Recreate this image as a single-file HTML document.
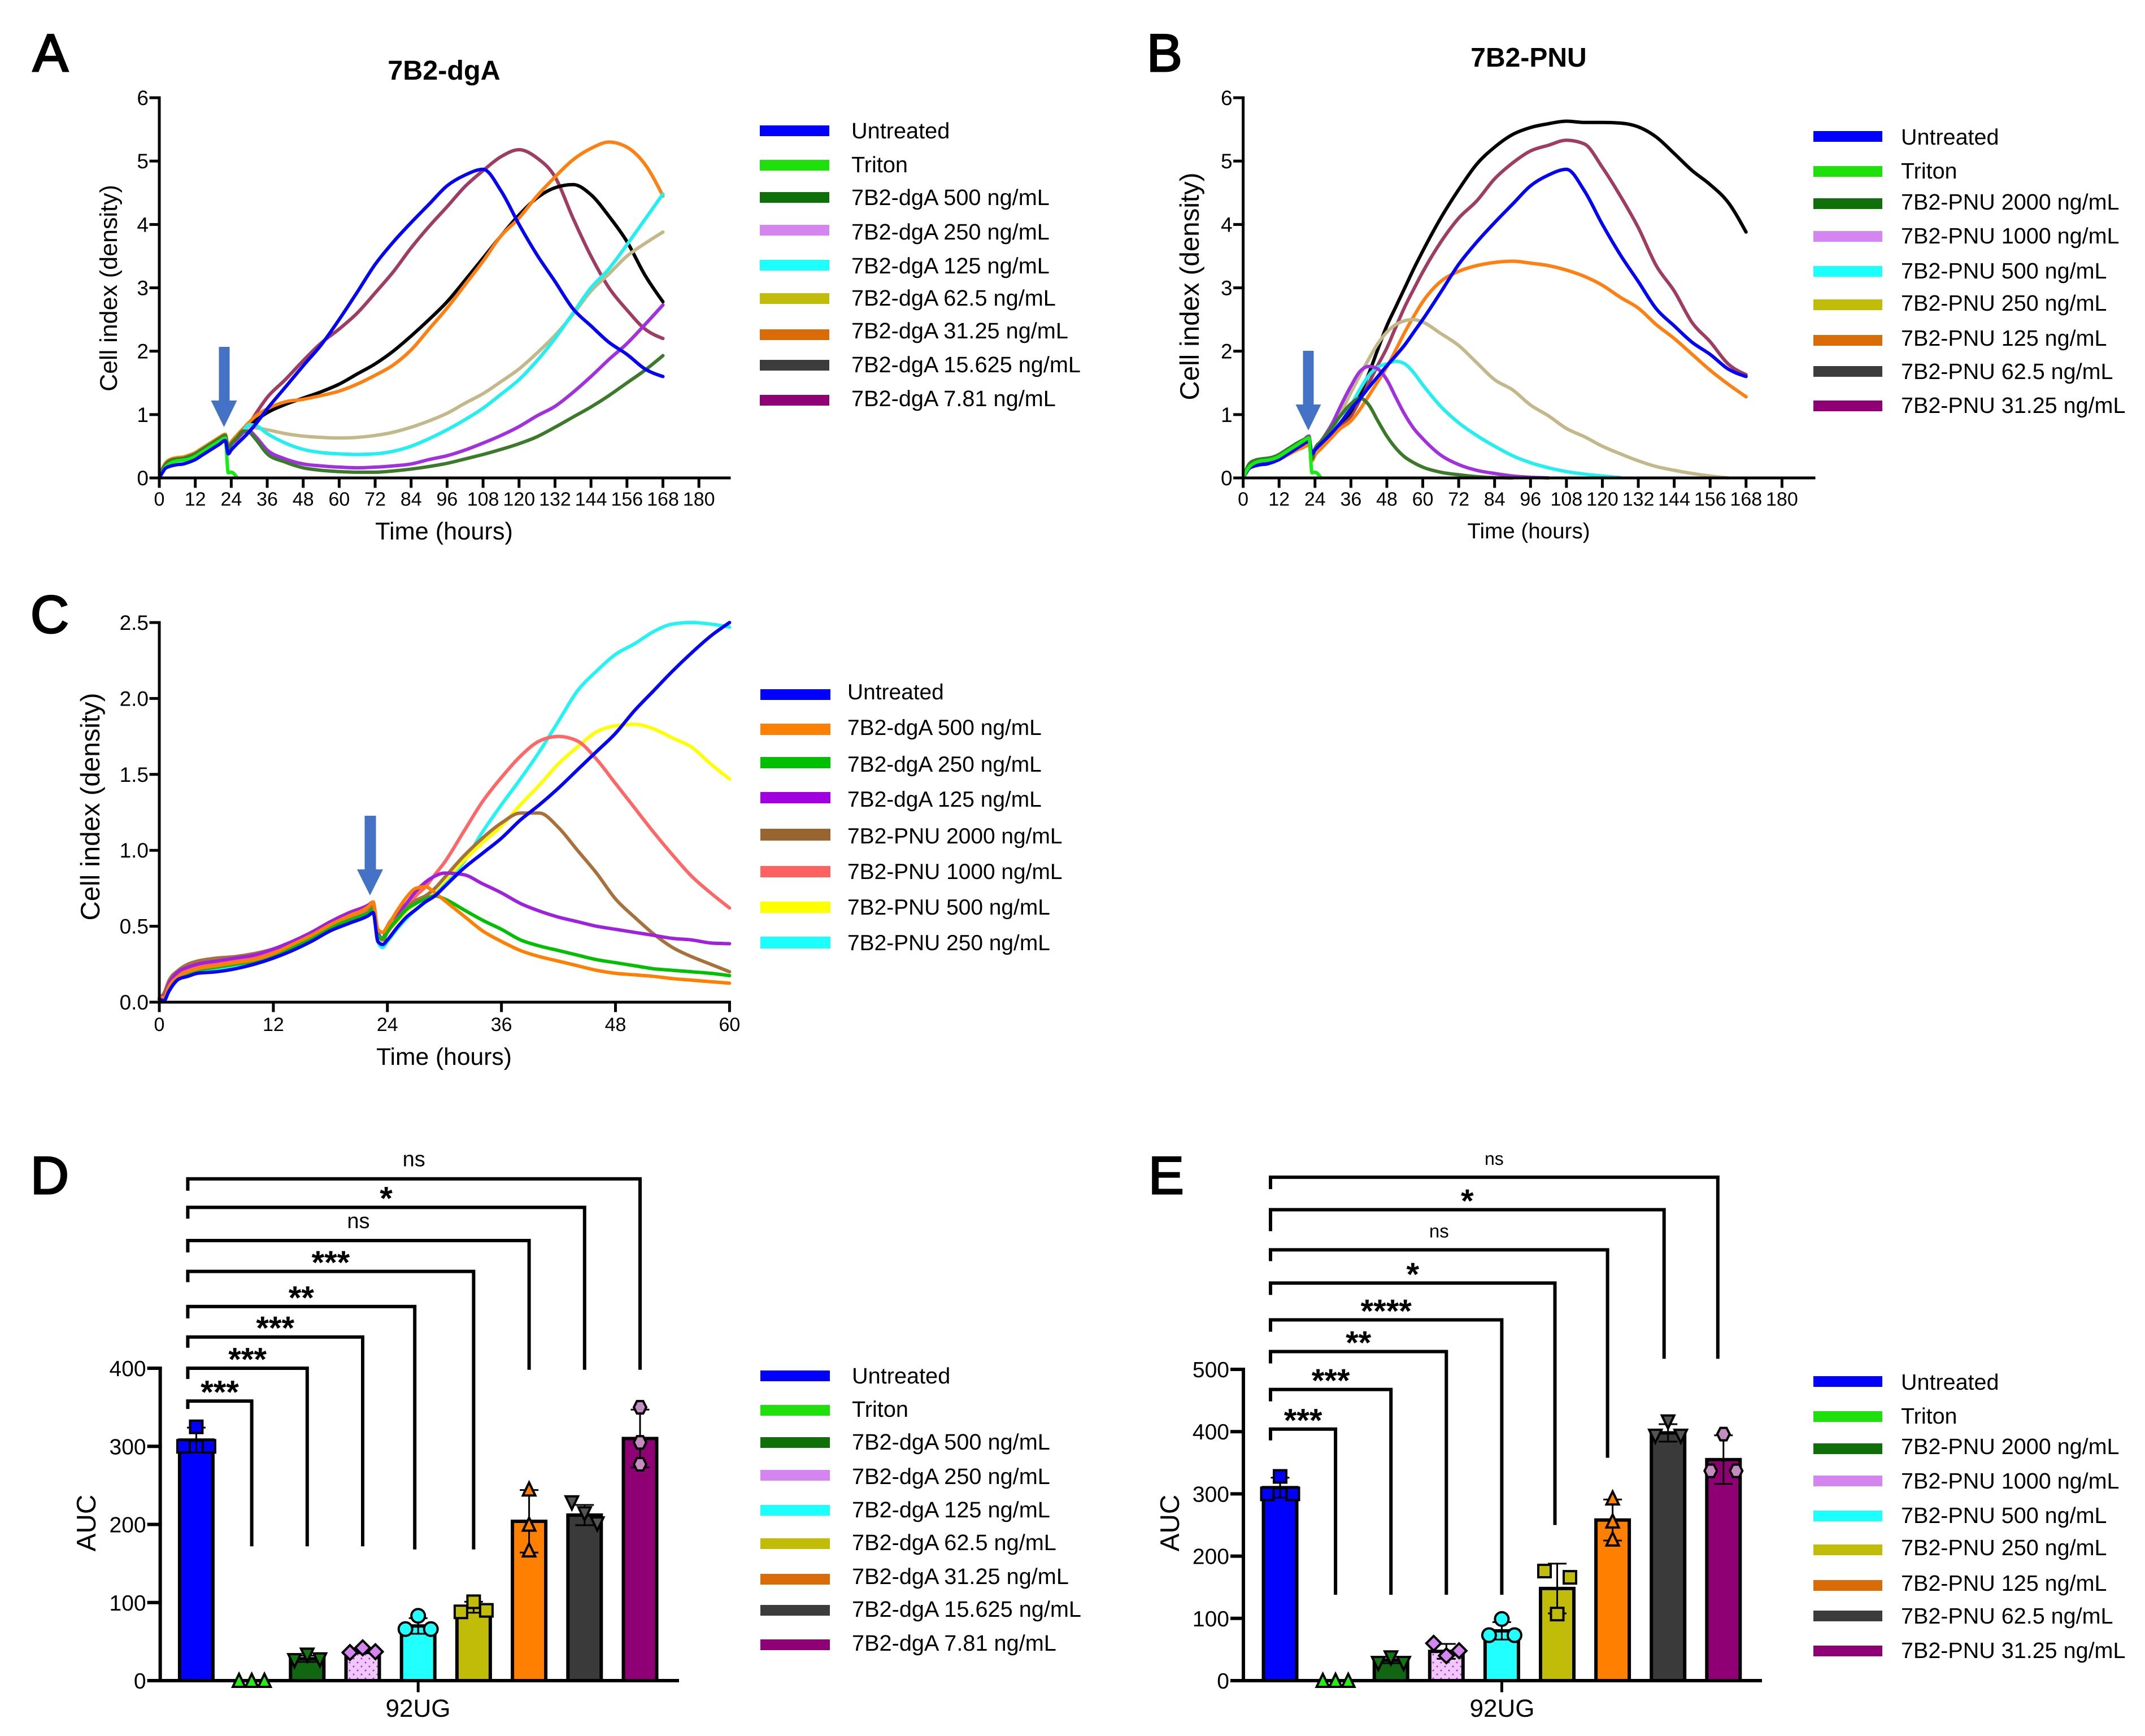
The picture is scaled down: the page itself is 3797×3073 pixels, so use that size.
<!DOCTYPE html>
<html lang="en">
<head>
<meta charset="utf-8">
<title>7B2-dgA and 7B2-PNU cell index and AUC charts</title>
<style>
html,body{margin:0;padding:0;background:#fff}
svg{display:block}
text{font-family:"Liberation Sans",Arial,sans-serif;fill:#000;text-rendering:geometricPrecision}
.letter{font-size:94px;font-weight:400;stroke:#000;stroke-width:3px}
.lg{font-size:39.7px}
.lgc{font-size:38.9px}
.lgb{font-size:39.5px}
</style>
</head>
<body>
<svg id="figure" xmlns="http://www.w3.org/2000/svg" width="3797" height="3073" viewBox="0 0 3797 3073">
<defs>
<pattern id="dots" width="14" height="14" patternUnits="userSpaceOnUse">
<rect width="14" height="14" fill="#edc8f8"/>
<circle cx="3" cy="3" r="1.5" fill="#c020e8"/>
<circle cx="10" cy="10" r="1.5" fill="#c020e8"/>
</pattern>
</defs>
<rect width="3797" height="3073" fill="#fff"/>

<g id="panelA">
<text class="letter" x="58" y="126">A</text>
<text x="786" y="141" font-size="48.5" font-weight="700" text-anchor="middle">7B2-dgA</text>
<text transform="translate(207,510) rotate(-90)" font-size="43" text-anchor="middle">Cell index (density)</text>
<text x="786" y="955" font-size="43.3" text-anchor="middle">Time (hours)</text>
<path d="M387.5 614H406.5V709H419.5L396.5 756L373.5 709H387.5Z" fill="#4472c4"/>
</g>
<g id="legendA">
<rect x="1345" y="222" width="123" height="19" fill="#0000ff"/><text class="lg" x="1507" y="245">Untreated</text>
<rect x="1345" y="283" width="123" height="19" fill="#1ee00a"/><text class="lg" x="1507" y="305">Triton</text>
<rect x="1345" y="340" width="123" height="19" fill="#0f700a"/><text class="lg" x="1507" y="363">7B2-dgA 500 ng/mL</text>
<rect x="1345" y="398" width="123" height="19" fill="#d585f0"/><text class="lg" x="1507" y="424">7B2-dgA 250 ng/mL</text>
<rect x="1345" y="460" width="123" height="19" fill="#1cffff"/><text class="lg" x="1507" y="484">7B2-dgA 125 ng/mL</text>
<rect x="1345" y="519" width="123" height="19" fill="#c0bc08"/><text class="lg" x="1507" y="541">7B2-dgA 62.5 ng/mL</text>
<rect x="1345" y="583" width="123" height="19" fill="#d96c06"/><text class="lg" x="1507" y="599">7B2-dgA 31.25 ng/mL</text>
<rect x="1345" y="637" width="123" height="19" fill="#3c3c3c"/><text class="lg" x="1507" y="659">7B2-dgA 15.625 ng/mL</text>
<rect x="1345" y="699" width="123" height="19" fill="#8e0074"/><text class="lg" x="1507" y="719">7B2-dgA 7.81 ng/mL</text>
</g>

<g id="panelB">
<text class="letter" x="2030" y="126">B</text>
<text x="2706" y="118" font-size="48" font-weight="700" text-anchor="middle">7B2-PNU</text>
<text transform="translate(2122,507) rotate(-90)" font-size="47.4" text-anchor="middle">Cell index (density)</text>
<text x="2706" y="953" font-size="38.6" text-anchor="middle">Time (hours)</text>
<path d="M2306.5 621H2325.5V716H2338.5L2316 762L2293.5 716H2306.5Z" fill="#4472c4"/>
</g>
<g id="legendB">
<rect x="3210" y="232" width="122" height="19" fill="#0000ff"/><text class="lgb" x="3365" y="256">Untreated</text>
<rect x="3210" y="294" width="122" height="19" fill="#1ee00a"/><text class="lgb" x="3365" y="316">Triton</text>
<rect x="3210" y="351" width="122" height="19" fill="#0f700a"/><text class="lgb" x="3365" y="371">7B2-PNU 2000 ng/mL</text>
<rect x="3210" y="409" width="122" height="19" fill="#d585f0"/><text class="lgb" x="3365" y="431">7B2-PNU 1000 ng/mL</text>
<rect x="3210" y="471" width="122" height="19" fill="#1cffff"/><text class="lgb" x="3365" y="493">7B2-PNU 500 ng/mL</text>
<rect x="3210" y="530" width="122" height="19" fill="#c0bc08"/><text class="lgb" x="3365" y="550">7B2-PNU 250 ng/mL</text>
<rect x="3210" y="593" width="122" height="19" fill="#d96c06"/><text class="lgb" x="3365" y="612">7B2-PNU 125 ng/mL</text>
<rect x="3210" y="648" width="122" height="19" fill="#3c3c3c"/><text class="lgb" x="3365" y="671">7B2-PNU 62.5 ng/mL</text>
<rect x="3210" y="709" width="122" height="19" fill="#8e0074"/><text class="lgb" x="3365" y="731">7B2-PNU 31.25 ng/mL</text>
</g>

<g id="panelC">
<text class="letter" x="54" y="1120">C</text>
<text transform="translate(176,1428) rotate(-90)" font-size="47.4" text-anchor="middle">Cell index (density)</text>
<text x="786" y="1885" font-size="42.6" text-anchor="middle">Time (hours)</text>
<path d="M645.5 1444H665.5V1539H678L655 1585L632 1539H645.5Z" fill="#4472c4"/>
</g>
<g id="legendC">
<rect x="1346" y="1220" width="124" height="19" fill="#0000ff"/><text class="lgc" x="1500" y="1238">Untreated</text>
<rect x="1346" y="1281" width="124" height="20" fill="#ff7f00"/><text class="lgc" x="1500" y="1301">7B2-dgA 500 ng/mL</text>
<rect x="1346" y="1340" width="124" height="20" fill="#00c000"/><text class="lgc" x="1500" y="1366">7B2-dgA 250 ng/mL</text>
<rect x="1346" y="1402" width="124" height="20" fill="#a000e0"/><text class="lgc" x="1500" y="1428">7B2-dgA 125 ng/mL</text>
<rect x="1346" y="1467" width="124" height="21" fill="#986430"/><text class="lgc" x="1500" y="1493">7B2-PNU 2000 ng/mL</text>
<rect x="1346" y="1533" width="124" height="20" fill="#ff6060"/><text class="lgc" x="1500" y="1556">7B2-PNU 1000 ng/mL</text>
<rect x="1346" y="1596" width="124" height="20" fill="#ffff00"/><text class="lgc" x="1500" y="1619">7B2-PNU 500 ng/mL</text>
<rect x="1346" y="1658" width="124" height="21" fill="#1cffff"/><text class="lgc" x="1500" y="1682">7B2-PNU 250 ng/mL</text>
</g>

<g id="panelD">
<text class="letter" x="54" y="2113">D</text>
<text transform="translate(169,2696) rotate(-90)" font-size="47.7" text-anchor="middle">AUC</text>
<text x="740" y="3039" font-size="44" text-anchor="middle">92UG</text>
</g>
<g id="legendD">
<rect x="1346" y="2426" width="123" height="19" fill="#0000ff"/><text class="lg" x="1508" y="2449">Untreated</text>
<rect x="1346" y="2487" width="123" height="19" fill="#1ee00a"/><text class="lg" x="1508" y="2508">Triton</text>
<rect x="1346" y="2544" width="123" height="19" fill="#0f700a"/><text class="lg" x="1508" y="2566">7B2-dgA 500 ng/mL</text>
<rect x="1346" y="2602" width="123" height="19" fill="#d585f0"/><text class="lg" x="1508" y="2627">7B2-dgA 250 ng/mL</text>
<rect x="1346" y="2664" width="123" height="19" fill="#1cffff"/><text class="lg" x="1508" y="2686">7B2-dgA 125 ng/mL</text>
<rect x="1346" y="2723" width="123" height="19" fill="#c0bc08"/><text class="lg" x="1508" y="2744">7B2-dgA 62.5 ng/mL</text>
<rect x="1346" y="2786" width="123" height="19" fill="#d96c06"/><text class="lg" x="1508" y="2804">7B2-dgA 31.25 ng/mL</text>
<rect x="1346" y="2841" width="123" height="19" fill="#3c3c3c"/><text class="lg" x="1508" y="2862">7B2-dgA 15.625 ng/mL</text>
<rect x="1346" y="2902" width="123" height="19" fill="#8e0074"/><text class="lg" x="1508" y="2922">7B2-dgA 7.81 ng/mL</text>
</g>

<g id="panelE">
<text class="letter" x="2033" y="2113">E</text>
<text transform="translate(2087,2696) rotate(-90)" font-size="47.7" text-anchor="middle">AUC</text>
<text x="2659" y="3039" font-size="44" text-anchor="middle">92UG</text>
</g>
<g id="legendE">
<rect x="3210" y="2436" width="122" height="19" fill="#0000ff"/><text class="lgb" x="3365" y="2460">Untreated</text>
<rect x="3210" y="2498" width="122" height="19" fill="#1ee00a"/><text class="lgb" x="3365" y="2520">Triton</text>
<rect x="3210" y="2555" width="122" height="19" fill="#0f700a"/><text class="lgb" x="3365" y="2574">7B2-PNU 2000 ng/mL</text>
<rect x="3210" y="2612" width="122" height="19" fill="#d585f0"/><text class="lgb" x="3365" y="2635">7B2-PNU 1000 ng/mL</text>
<rect x="3210" y="2674" width="122" height="19" fill="#1cffff"/><text class="lgb" x="3365" y="2696">7B2-PNU 500 ng/mL</text>
<rect x="3210" y="2734" width="122" height="19" fill="#c0bc08"/><text class="lgb" x="3365" y="2753">7B2-PNU 250 ng/mL</text>
<rect x="3210" y="2797" width="122" height="19" fill="#d96c06"/><text class="lgb" x="3365" y="2816">7B2-PNU 125 ng/mL</text>
<rect x="3210" y="2851" width="122" height="19" fill="#3c3c3c"/><text class="lgb" x="3365" y="2874">7B2-PNU 62.5 ng/mL</text>
<rect x="3210" y="2913" width="122" height="19" fill="#8e0074"/><text class="lgb" x="3365" y="2935">7B2-PNU 31.25 ng/mL</text>
</g>
</svg>

<script>
// ---------- tick labels ----------
const timeTicksLong = [0,12,24,36,48,60,72,84,96,108,120,132,144,156,168,180];
const timeTicksShort = [0,12,24,36,48,60];
const densityTicksLong = [0,1,2,3,4,5,6];
const densityTicksShort = ['0.0','0.5','1.0','1.5','2.0','2.5'];
const aucTicksD = [0,100,200,300,400];
const aucTicksE = [0,100,200,300,400,500];

// ---------- panel A: time grid and series ----------
const hoursA = [0,1,2,4,6,8,10,12,14,16,18,20,22,23,24,26,28,30,32,36,42,48,54,60,66,72,78,84,90,96,102,108,114,120,126,132,138,144,150,156,162,168];
const untreatedA = [0,.08,.15,.19,.21,.22,.25,.29,.35,.41,.47,.53,.59,.38,.44,.54,.63,.73,.84,1.09,1.43,1.77,2.1,2.5,2.93,3.37,3.72,4.03,4.32,4.61,4.78,4.87,4.53,4.0,3.52,3.1,2.67,2.4,2.14,1.95,1.72,1.6];
const tritonA = [0,.1,.17,.24,.27,.28,.3,.34,.4,.46,.52,.58,.63,.08,.09,0];
const dga500A = [0,.13,.21,.28,.3,.31,.34,.38,.44,.5,.56,.62,.67,.47,.54,.64,.74,.72,.62,.38,.25,.16,.12,.1,.09,.09,.11,.14,.18,.23,.3,.37,.45,.54,.65,.8,.96,1.12,1.3,1.5,1.7,1.93];
const dga250A = [0,.12,.2,.27,.29,.3,.33,.37,.43,.49,.55,.61,.66,.46,.53,.62,.72,.74,.66,.44,.3,.22,.19,.17,.16,.17,.19,.22,.29,.35,.44,.55,.67,.81,.98,1.13,1.35,1.6,1.87,2.12,2.42,2.73];
const dga125A = [0,.11,.19,.25,.27,.28,.31,.35,.41,.47,.53,.59,.65,.45,.52,.63,.74,.84,.83,.7,.55,.45,.4,.38,.37,.38,.42,.5,.62,.76,.92,1.1,1.32,1.55,1.85,2.2,2.6,3.0,3.3,3.68,4.08,4.48];
const dga62A = [0,.12,.2,.26,.28,.29,.32,.36,.42,.48,.54,.6,.66,.46,.53,.63,.74,.8,.79,.76,.7,.66,.64,.63,.64,.67,.72,.8,.9,1.02,1.18,1.33,1.52,1.72,1.97,2.25,2.58,2.95,3.22,3.5,3.7,3.88];
const dga31A = [0,.14,.23,.3,.32,.33,.36,.4,.46,.52,.58,.64,.69,.5,.57,.68,.78,.88,.97,1.09,1.2,1.24,1.3,1.37,1.48,1.62,1.78,2.02,2.35,2.68,3.05,3.42,3.82,4.1,4.45,4.75,5.02,5.2,5.3,5.22,4.95,4.45];
const dga15A = [0,.13,.22,.29,.31,.32,.35,.39,.45,.51,.57,.63,.68,.48,.55,.65,.74,.82,.9,1.03,1.16,1.26,1.36,1.48,1.64,1.8,2.0,2.24,2.5,2.78,3.12,3.47,3.82,4.15,4.42,4.58,4.63,4.47,4.13,3.73,3.2,2.78];
const dga7A = [0,.12,.2,.26,.28,.29,.32,.36,.42,.48,.54,.6,.65,.45,.52,.62,.72,.85,1.0,1.27,1.55,1.85,2.13,2.35,2.6,2.92,3.25,3.63,3.97,4.28,4.6,4.85,5.07,5.18,5.05,4.75,4.1,3.5,3.0,2.65,2.35,2.2];

// ---------- panel B: time grid and series ----------
const hoursB = [0,1,2,4,6,8,10,12,14,16,18,20,22,23,24,26,28,30,32,36,39,42,45,48,51,54,57,60,66,72,78,84,90,96,102,108,114,120,126,132,138,144,150,156,162,168];
const untreatedB = [0,.08,.15,.19,.21,.22,.25,.29,.35,.41,.47,.53,.59,.38,.44,.54,.63,.73,.84,1.09,1.25,1.43,1.6,1.77,1.93,2.1,2.3,2.5,2.93,3.37,3.72,4.03,4.32,4.61,4.78,4.87,4.53,4.0,3.52,3.1,2.67,2.4,2.14,1.95,1.72,1.6];
const tritonB = [0,.1,.17,.24,.27,.28,.3,.34,.4,.46,.52,.58,.63,.08,.09,0];
const pnu2000B = [0,.13,.22,.28,.3,.31,.33,.37,.43,.49,.55,.6,.64,.3,.46,.58,.7,.82,.95,1.17,1.26,1.15,.9,.66,.47,.33,.24,.17,.09,.05,.02,.005,0];
const pnu1000B = [0,.11,.18,.23,.25,.26,.29,.33,.39,.45,.52,.59,.66,.36,.46,.58,.72,.88,1.08,1.45,1.68,1.76,1.72,1.55,1.27,1.0,.78,.62,.36,.21,.12,.07,.03,.01,0];
const pnu500B = [0,.1,.17,.22,.24,.25,.28,.32,.38,.44,.5,.56,.62,.34,.44,.56,.68,.8,.95,1.15,1.4,1.62,1.75,1.8,1.84,1.8,1.66,1.47,1.13,.87,.67,.5,.35,.24,.16,.1,.06,.03,.005];
const pnu250B = [0,.11,.18,.23,.25,.26,.29,.33,.39,.45,.5,.55,.6,.32,.42,.54,.67,.8,.97,1.35,1.62,1.88,2.12,2.3,2.42,2.48,2.5,2.46,2.28,2.09,1.82,1.55,1.39,1.15,.98,.78,.65,.5,.38,.27,.18,.12,.07,.03,0];
const pnu125B = [0,.09,.16,.2,.22,.23,.26,.29,.34,.39,.44,.48,.52,.27,.36,.46,.56,.66,.76,.9,1.08,1.3,1.52,1.75,2.02,2.3,2.55,2.78,3.1,3.26,3.35,3.4,3.42,3.39,3.35,3.28,3.18,3.04,2.85,2.68,2.42,2.2,1.95,1.7,1.48,1.28];
const pnu62B = [0,.1,.17,.22,.24,.25,.28,.31,.37,.43,.48,.53,.57,.29,.39,.49,.6,.72,.84,1.05,1.33,1.65,2.03,2.4,2.7,3.0,3.3,3.58,4.1,4.55,4.95,5.22,5.42,5.53,5.59,5.63,5.61,5.61,5.6,5.54,5.38,5.12,4.85,4.63,4.35,3.88];
const pnu31B = [0,.1,.17,.22,.24,.25,.28,.31,.37,.43,.48,.53,.57,.29,.39,.49,.59,.69,.8,.98,1.23,1.5,1.78,2.05,2.38,2.7,2.98,3.25,3.72,4.1,4.37,4.72,4.97,5.16,5.25,5.33,5.27,4.9,4.45,3.95,3.35,2.95,2.45,2.15,1.8,1.63];

// ---------- panel C: time grid and series ----------
const hoursC = [0,.5,1,2,3,4,6,8,10,12,14,16,18,20,22,22.5,23,23.5,24,25,26,27,28,29,30,32,34,36,38,40,42,44,46,48,50,52,54,56,58,60];
const untreatedC = [.02,.01,.07,.15,.17,.19,.2,.22,.25,.29,.34,.4,.47,.52,.57,.59,.4,.38,.41,.49,.56,.61,.66,.7,.76,.88,.98,1.08,1.2,1.3,1.41,1.53,1.65,1.77,1.92,2.05,2.18,2.3,2.41,2.5];
const dga500C = [.03,.03,.1,.17,.2,.22,.24,.26,.28,.32,.38,.44,.51,.57,.63,.66,.48,.46,.5,.6,.69,.75,.76,.72,.67,.57,.47,.4,.34,.3,.27,.24,.21,.19,.18,.17,.155,.145,.135,.125];
const dga250C = [.02,.03,.09,.16,.19,.21,.23,.25,.27,.31,.36,.42,.49,.54,.59,.61,.44,.42,.47,.54,.61,.65,.68,.7,.68,.61,.54,.48,.41,.37,.34,.31,.28,.26,.24,.22,.21,.2,.19,.175];
const dga125C = [.03,.04,.12,.2,.23,.25,.27,.29,.31,.35,.4,.46,.53,.59,.64,.66,.46,.42,.5,.58,.65,.73,.79,.83,.85,.84,.78,.72,.65,.6,.56,.53,.5,.48,.46,.44,.42,.41,.39,.385];
const pnu2000C = [.03,.06,.14,.21,.25,.27,.29,.3,.32,.35,.39,.45,.52,.57,.62,.63,.45,.41,.46,.55,.62,.67,.7,.75,.82,.96,1.08,1.18,1.245,1.245,1.15,1.0,.85,.68,.56,.45,.36,.3,.25,.2];
const pnu1000C = [.02,.03,.1,.18,.21,.23,.25,.27,.29,.33,.38,.44,.51,.56,.61,.63,.45,.41,.46,.54,.62,.7,.76,.84,.92,1.12,1.32,1.48,1.62,1.72,1.75,1.72,1.6,1.44,1.28,1.12,.97,.83,.72,.62];
const pnu500C = [.02,.03,.1,.17,.2,.22,.24,.26,.28,.31,.36,.42,.49,.54,.6,.62,.44,.41,.46,.53,.6,.65,.7,.74,.8,.93,1.05,1.16,1.3,1.43,1.57,1.68,1.78,1.82,1.83,1.8,1.74,1.68,1.57,1.47];
const pnu250C = [.02,.02,.08,.16,.18,.2,.21,.23,.26,.3,.35,.41,.47,.53,.58,.6,.4,.36,.4,.48,.55,.61,.66,.71,.78,.92,1.12,1.3,1.47,1.65,1.85,2.05,2.18,2.29,2.36,2.44,2.49,2.5,2.49,2.47];

// ---------- panel D: bars ----------
const barCategories = ['untreated','triton','dose-1','dose-2','dose-3','dose-4','dose-5','dose-6','dose-7'];
const barMeansD = [308,0,28,38,70,94,204,212,310];
const barSdD = [16,0,4,3,10,7,40,13,37];
const barPointsD = [[300,325,300],[0,0,0],[26,33,27],[36,42,37],[66,83,66],[88,101,90],[245,200,167],[228,214,201],[350,305,277]];
const bracketTargetsD = [1,2,3,4,5,6,7,8];
const bracketLevelsD = [358,400,440,479,524,563.5,606,642.5];
const bracketEndsD = [172,172,172,168,168,398,398,398];
const bracketLabelsD = ['***','***','***','**','***','ns','*','ns'];

// ---------- panel E: bars ----------
const barMeansE = [310,0,33,47,80,148,258,398,355];
const barSdE = [16,0,5,12,14,40,33,14,39];
const barPointsE = [[300,328,300],[0,0,0],[28,37,28],[60,40,48],[73,99,73],[176,107,166],[293,256,227],[393,416,393],[337,396,337]];
const bracketTargetsE = [1,2,3,4,5,6,7,8];
const bracketLevelsE = [404,467.7,528.6,579.5,638.6,692,756.5,808.7];
const bracketEndsE = [137.9,137.9,137.9,137.9,250,358,517,517];
const bracketLabelsE = ['***','***','**','****','*','ns','*','ns'];

// ---------- styles (not data) ----------
const barFills = ['#0000ff','#22ee11','#116611','url(#dots)','#22ffff','#c0bc08','#ff8000','#3a3a3a','#8e0074'];
const pointFills = ['#0000ff','#22ee11','#117711','#d585f0','#22ffff','#c0bc08','#ff8000','#555555','#c58cc0'];
const pointShapes = ['square','up','down','diamond','circle','square','up','down','hex'];

const NS = 'http://www.w3.org/2000/svg';
function mk(parent, tag, attrs, txt) {
  const el = document.createElementNS(NS, tag);
  for (const k in attrs) el.setAttribute(k, attrs[k]);
  if (txt !== undefined) el.textContent = txt;
  parent.appendChild(el);
  return el;
}
function linear(d0, d1, r0, r1) {
  return v => r0 + (v - d0) * (r1 - r0) / (d1 - d0);
}
function line(parent, x1, y1, x2, y2, w, name) {
  const el = mk(parent, 'line', {x1, y1, x2, y2, stroke: '#000', 'stroke-width': w, 'stroke-linecap': 'square'});
  
  
  return el;
}

// monotone cubic path through the plotted samples: no overshoot at the treatment notch
function monotonePath(px, py) {
  const n = px.length;
  const sl = [];
  for (let i = 0; i < n - 1; i++) sl.push((py[i + 1] - py[i]) / (px[i + 1] - px[i]));
  const t = new Array(n).fill(0);
  for (let i = 1; i < n - 1; i++) {
    const h0 = px[i] - px[i - 1], h1 = px[i + 1] - px[i];
    const p = (sl[i - 1] * h1 + sl[i] * h0) / (h0 + h1);
    t[i] = (Math.sign(sl[i - 1]) + Math.sign(sl[i])) * Math.min(Math.abs(sl[i - 1]), Math.abs(sl[i]), 0.5 * Math.abs(p)) || 0;
  }
  t[0] = (3 * sl[0] - t[1]) / 2;
  t[n - 1] = (3 * sl[n - 2] - t[n - 2]) / 2;
  let d = 'M' + px[0].toFixed(1) + ' ' + py[0].toFixed(1);
  for (let i = 0; i < n - 1; i++) {
    const dx = (px[i + 1] - px[i]) / 3;
    d += 'C' + (px[i] + dx).toFixed(1) + ' ' + (py[i] + dx * t[i]).toFixed(1) + ' ' +
         (px[i + 1] - dx).toFixed(1) + ' ' + (py[i + 1] - dx * t[i + 1]).toFixed(1) + ' ' +
         px[i + 1].toFixed(1) + ' ' + py[i + 1].toFixed(1);
  }
  return d;
}

function drawTimeAxes(panel, cfg, xTicks, yTicks, yValue) {
  const g = mk(panel, 'g', {});
  
  
  line(g, cfg.x(0), cfg.y(cfg.yMax), cfg.x(0), cfg.y(0), 5, 'y-axis-line');
  line(g, cfg.x(0), cfg.y(0), cfg.axisEnd, cfg.y(0), 5, 'x-axis-line');
  xTicks.forEach(t => {
    const px = cfg.x(t);
    line(g, px, cfg.y(0), px, cfg.y(0) + 15, 5, 'x-tick-' + t);
    const lab = mk(g, 'text', {x: px, y: cfg.xLabelY, 'font-size': 34, 'text-anchor': 'middle'}, t);
    
    
  });
  yTicks.forEach(t => {
    const py = cfg.y(yValue(t));
    line(g, cfg.x(0) - 15, py, cfg.x(0), py, 5, 'y-tick-' + t);
    const lab = mk(g, 'text', {x: cfg.x(0) - 19, y: py + 13, 'font-size': 37, 'text-anchor': 'end'}, t);
    
    
  });
}

function drawSeries(panel, cfg, hours, list) {
  const g = mk(panel, 'g', {});
  
  
  list.forEach(s => {
    const px = s.values.map((v, i) => cfg.x(hours[i]));
    const py = s.values.map(v => cfg.y(v));
    const el = mk(g, 'path', {d: monotonePath(px, py), fill: 'none', stroke: s.color, 'stroke-width': 6, 'stroke-linejoin': 'round', 'stroke-linecap': 'round'});
    
    
  });
}

function marker(parent, shape, cx, cy, fill, name) {
  const r = 11;
  let el;
  const common = {fill, stroke: '#000', 'stroke-width': 4, 'stroke-linejoin': 'miter'};
  if (shape === 'circle') {
    el = mk(parent, 'circle', Object.assign({cx, cy, r: r + 1}, common));
  } else {
    let p;
    if (shape === 'square') p = [[-r,-r],[r,-r],[r,r],[-r,r]];
    if (shape === 'up') p = [[0,-r-1],[r,r],[-r,r]];
    if (shape === 'down') p = [[-r,-r],[r,-r],[0,r+1]];
    if (shape === 'diamond') p = [[0,-r-2],[r+2,0],[0,r+2],[-r-2,0]];
    if (shape === 'hex') p = [[-r,0],[-r/2,-r],[r/2,-r],[r,0],[r/2,r],[-r/2,r]];
    el = mk(parent, 'polygon', Object.assign({points: p.map(q => (cx + q[0]).toFixed(1) + ',' + (cy + q[1]).toFixed(1)).join(' ')}, common));
  }
  
  
}

// spread overlapping replicates sideways: a cluster of 3 gets -w,0,w and a pair gets -w,w
function swarm(values, yScale, w) {
  const n = values.length;
  const group = values.map((_, i) => i);
  for (let i = 0; i < n; i++) for (let j = i + 1; j < n; j++) {
    if (Math.abs(yScale(values[i]) - yScale(values[j])) < 30) {
      const gj = group[j], gi = group[i];
      group.forEach((g, k) => { if (g === gj) group[k] = gi; });
    }
  }
  return values.map((_, i) => {
    const members = group.map((g, k) => g === group[i] ? k : -1).filter(k => k >= 0);
    if (members.length === 1) return 0;
    if (members.length === 2) return members[0] === i ? -w : w;
    return (members.indexOf(i) - 1) * w;
  });
}

function drawBarChart(panel, cfg, means, sds, points, yTicks, targets, levels, ends, labels) {
  const X = i => cfg.x0 + i * cfg.step;
  const Y = cfg.y;
  const base = Y(0);
  const axes = mk(panel, 'g', {});
  
  
  const barsG = mk(panel, 'g', {});
  
  
  means.forEach((m, i) => {
    if (m > 0) {
      const bar = mk(barsG, 'rect', {x: X(i) - 29.5, y: Y(m), width: 59, height: base - Y(m), fill: barFills[i], stroke: '#000', 'stroke-width': 6});
      
      
    }
  });
  line(axes, cfg.axisX, Y(yTicks[yTicks.length - 1]), cfg.axisX, base, 6, 'y-axis-line');
  const xAxisLine = line(barsG, cfg.axisX - 20, base, cfg.axisEnd, base, 6, 'x-axis-line');
  xAxisLine.setAttribute('stroke-linecap', 'butt');
  line(barsG, X(4), base, X(4), base + 18, 5, 'x-tick');
  yTicks.forEach(t => {
    line(axes, cfg.axisX - 20, Y(t), cfg.axisX, Y(t), 6, 'y-tick-' + t);
    const lab = mk(axes, 'text', {x: cfg.axisX - 25, y: Y(t) + 14, 'font-size': 39, 'text-anchor': 'end'}, t);
    
    
  });
  // error bars
  const errG = mk(panel, 'g', {});
  
  
  sds.forEach((sd, i) => {
    if (sd <= 0) return;
    const top = Y(means[i] + sd), bottom = Y(Math.max(0, means[i] - sd));
    line(errG, X(i), top, X(i), bottom, 3, 'error-stem-' + barCategories[i]);
    line(errG, X(i) - 15, top, X(i) + 15, top, 3, 'error-cap-top-' + barCategories[i]);
    line(errG, X(i) - 15, bottom, X(i) + 15, bottom, 3, 'error-cap-bottom-' + barCategories[i]);
  });
  // replicate points
  const ptG = mk(panel, 'g', {});
  
  
  points.forEach((vals, i) => {
    const off = swarm(vals, Y, 22.5);
    vals.forEach((v, k) => {
      marker(ptG, pointShapes[i], X(i) + off[k], Y(v), pointFills[i], 'point-' + barCategories[i] + '-' + (k + 1));
    });
  });
  // significance brackets
  const brG = mk(panel, 'g', {});
  
  
  targets.forEach((t, i) => {
    const left = X(0) + cfg.bracketLeft, right = X(t) + cfg.nudge[i], ly = Y(levels[i]);
    const path = mk(brG, 'path', {d: 'M' + left + ' ' + (ly + cfg.drop[i]) + 'V' + ly + 'H' + right + 'V' + Y(ends[i]), fill: 'none', stroke: '#000', 'stroke-width': 6, 'stroke-linejoin': 'miter'});
    
    
    const isNs = labels[i] === 'ns';
    const mid = (left + right) / 2;
    const attrs = isNs
      ? {x: mid, y: ly - 22, 'font-size': cfg.nsSize[i], 'text-anchor': 'middle'}
      : {x: mid, y: ly + 4, 'font-size': 58, 'font-weight': 700, 'text-anchor': 'middle'};
    const lab = mk(brG, 'text', attrs, labels[i]);
    
    
  });
}

// ---------- build ----------
const cfgA = {x: linear(0, 168, 282, 1173.5), y: linear(0, 6, 846, 173), yMax: 6, axisEnd: 1291, xLabelY: 895};
const cfgB = {x: linear(0, 168, 2200.6, 3090.8), y: linear(0, 6, 846, 173), yMax: 6, axisEnd: 3211, xLabelY: 895};
const cfgC = {x: linear(0, 60, 282, 1291.4), y: linear(0, 2.5, 1774, 1102), yMax: 2.5, axisEnd: 1291.4, xLabelY: 1825};

const panelA = document.getElementById('panelA');
const panelB = document.getElementById('panelB');
const panelC = document.getElementById('panelC');
const panelD = document.getElementById('panelD');
const panelE = document.getElementById('panelE');

drawSeries(panelA, cfgA, hoursA, [
  {name: '7-81', color: '#9e3c62', values: dga7A},
  {name: '15-625', color: '#000000', values: dga15A},
  {name: '31-25', color: '#ff8010', values: dga31A},
  {name: '62-5', color: '#c2b88a', values: dga62A},
  {name: '125', color: '#22f0f0', values: dga125A},
  {name: '250', color: '#a030e0', values: dga250A},
  {name: '500', color: '#3a7a2a', values: dga500A},
  {name: 'triton', color: '#11ee11', values: tritonA},
  {name: 'untreated', color: '#0505f5', values: untreatedA}
]);
drawTimeAxes(panelA, cfgA, timeTicksLong, densityTicksLong, t => t);

drawSeries(panelB, cfgB, hoursB, [
  {name: '31-25', color: '#9e3c62', values: pnu31B},
  {name: '62-5', color: '#000000', values: pnu62B},
  {name: '125', color: '#ff8010', values: pnu125B},
  {name: '250', color: '#c2b88a', values: pnu250B},
  {name: '500', color: '#22f0f0', values: pnu500B},
  {name: '1000', color: '#a030e0', values: pnu1000B},
  {name: '2000', color: '#3a7a2a', values: pnu2000B},
  {name: 'untreated', color: '#0505f5', values: untreatedB},
  {name: 'triton', color: '#11ee11', values: tritonB}
]);
drawTimeAxes(panelB, cfgB, timeTicksLong, densityTicksLong, t => t);

drawSeries(panelC, cfgC, hoursC, [
  {name: 'pnu-250', color: '#22f4f4', values: pnu250C},
  {name: 'pnu-500', color: '#ffff00', values: pnu500C},
  {name: 'pnu-1000', color: '#ff6666', values: pnu1000C},
  {name: 'pnu-2000', color: '#a8703a', values: pnu2000C},
  {name: 'dga-125', color: '#a020e0', values: dga125C},
  {name: 'dga-250', color: '#00c000', values: dga250C},
  {name: 'dga-500', color: '#ff7f00', values: dga500C},
  {name: 'untreated', color: '#0505f5', values: untreatedC}
]);
drawTimeAxes(panelC, cfgC, timeTicksShort, densityTicksShort, t => parseFloat(t));

drawBarChart(panelD, {
  x0: 347.4, step: 98.2, y: linear(0, 400, 2975, 2422), axisX: 283.6, axisEnd: 1202,
  bracketLeft: -15, nudge: [0,0,0,-6,0,0,0,0], drop: [14,19,19,21,19,21,20,21], nsSize: [0,0,0,0,0,38,0,38]
}, barMeansD, barSdD, barPointsD, aucTicksD, bracketTargetsD, bracketLevelsD, bracketEndsD, bracketLabelsD);

drawBarChart(panelE, {
  x0: 2266, step: 98.1, y: linear(0, 500, 2975, 2424), axisX: 2201, axisEnd: 3119,
  bracketLeft: -17, nudge: [0,0,0,0,-4,-9,-7,-10], drop: [20,21,21,21,21,20,38,21], nsSize: [0,0,0,0,0,33,0,32]
}, barMeansE, barSdE, barPointsE, aucTicksE, bracketTargetsE, bracketLevelsE, bracketEndsE, bracketLabelsE);
</script>
</body>
</html>
